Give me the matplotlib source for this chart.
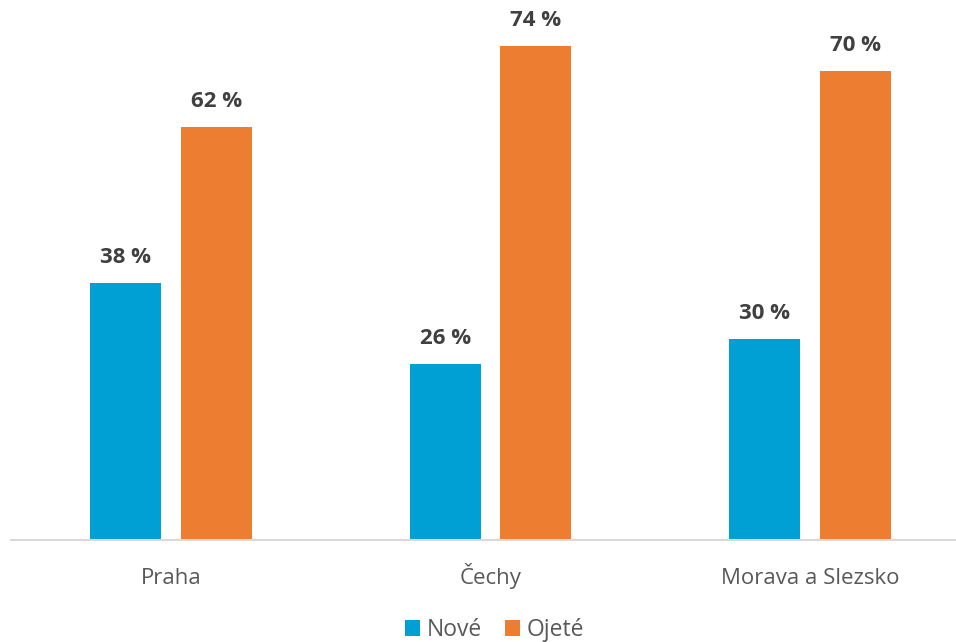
import matplotlib
matplotlib.use("Agg")
import matplotlib.pyplot as plt
import numpy as np

categories = ["Praha", "Čechy", "Morava a Slezsko"]
nove = [38.4, 26.3, 30.0]
ojete = [61.6, 73.7, 70.0]
series_names = ["Nové", "Ojeté"]

BLUE = "#009FD4"
ORANGE = "#ED7D31"

plt.rcParams["font.family"] = ["Open Sans", "DejaVu Sans"]

fig = plt.figure(figsize=(9.56, 6.42), dpi=100)
# axes spans beyond the right edge, as in the cropped original
ax = fig.add_axes([11 / 956, 1 - 540 / 642, 959 / 956, 536.4 / 642])

x = np.arange(len(categories))
w = 0.222
off = 0.142
b1 = ax.bar(x - off, nove, w, color=BLUE, label=series_names[0])
b2 = ax.bar(x + off, ojete, w, color=ORANGE, label=series_names[1])

for bars in (b1, b2):
    for r in bars:
        ax.annotate(f"{r.get_height():.0f} %", (r.get_x() + r.get_width() / 2, r.get_height()),
                    xytext=(0, 10.5), textcoords="offset points", ha="center", va="bottom",
                    fontsize=16, fontweight="bold", color="#404040")

ax.set_xlim(-0.5, 2.5)
ax.set_ylim(0, 80)
ax.set_xticks(x)
ax.set_xticklabels(categories, fontsize=16, color="#595959", va="baseline")
ax.tick_params(axis="x", length=0, pad=32)
ax.set_yticks([])
for s in ["top", "right", "left"]:
    ax.spines[s].set_visible(False)
ax.spines["bottom"].set_color("#D9D9D9")
ax.spines["bottom"].set_linewidth(1.5)

fig.legend(loc="lower center", bbox_to_anchor=(495 / 956, -0.032), ncol=2, frameon=False,
           fontsize=16.5, labelcolor="#595959", handlelength=0.65, handleheight=0.65,
           handletextpad=0.3, columnspacing=1.0)

fig.savefig("out.png", dpi=100)
